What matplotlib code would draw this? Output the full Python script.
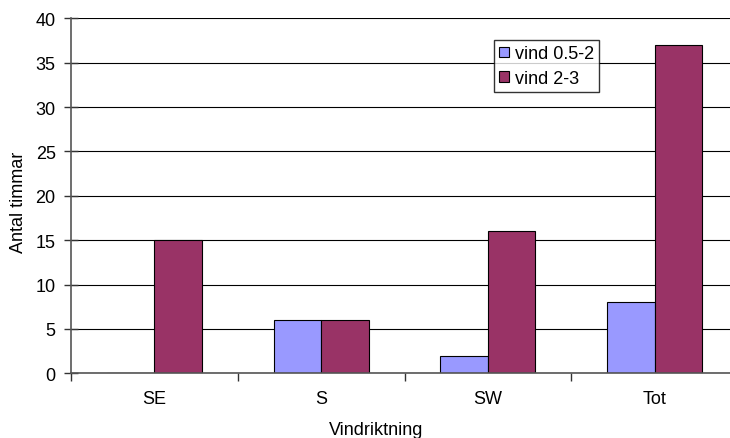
import matplotlib
matplotlib.use("Agg")
import matplotlib.pyplot as plt
import numpy as np

plt.rcParams['font.family'] = ['Liberation Sans', 'DejaVu Sans']

# Données
kategorier = ['SE', 'S', 'SW', 'Tot']
vind_05_2 = [0, 6, 2, 8]
vind_2_3 = [15, 6, 16, 37]
serie_namn = ['vind 0.5-2', 'vind 2-3']

fig = plt.figure(figsize=(7.30, 4.39), dpi=100)
# zone du graphe (dépasse un peu à droite, comme l'original)
ax = fig.add_axes([71 / 730, 1 - 374.3 / 439, 667 / 730, 355 / 439])

x = np.arange(len(kategorier))
bredd = 0.285
ax.bar(x - bredd / 2, vind_05_2, width=bredd, color='#9999FF', edgecolor='black',
       linewidth=0.8, label=serie_namn[0], zorder=3)
ax.bar(x + bredd / 2, vind_2_3, width=bredd, color='#993366', edgecolor='black',
       linewidth=0.8, label=serie_namn[1], zorder=3)

ax.set_xlim(-0.5, len(kategorier) - 0.5)
ax.set_ylim(0, 40)
ax.set_yticks(range(0, 41, 5))
ax.yaxis.grid(True, color='black', linewidth=0.8, zorder=0)

# Séparateurs de catégories en ticks majeurs, étiquettes au milieu
ax.set_xticks(np.arange(len(kategorier) + 1) - 0.5)
ax.set_xticklabels([])
ax.set_xticks(x, minor=True)
ax.set_xticklabels(kategorier, minor=True)
ax.tick_params(axis='x', which='minor', length=0, pad=12, labelsize=13)
ax.tick_params(axis='x', which='major', length=6, width=1, color='#333333', direction='out')
ax.tick_params(axis='y', length=10, width=1, color='#333333', direction='inout',
               labelsize=13, pad=6)

for s in ['top', 'right']:
    ax.spines[s].set_visible(False)
for s in ['left', 'bottom']:
    ax.spines[s].set_color('#555555')
    ax.spines[s].set_linewidth(1.2)
    ax.spines[s].set_zorder(4)

fig.text(19 / 730, 1 - 202 / 439, 'Antal timmar', rotation=90, ha='center', va='center', fontsize=13)
fig.text(376 / 730, 1 - 431 / 439, 'Vindriktning', ha='center', va='center', fontsize=13)

leg = ax.legend(loc='upper left', bbox_to_anchor=(494 / 730, 1 - 41 / 439),
                bbox_transform=fig.transFigure, fontsize=13, frameon=True,
                fancybox=False, shadow=False, borderpad=0.3, labelspacing=0.4,
                handlelength=0.55, handleheight=0.55, handletextpad=0.3, borderaxespad=0)
leg.get_frame().set_edgecolor('black')
leg.get_frame().set_linewidth(1.0)

fig.savefig('out.png', dpi=100)
